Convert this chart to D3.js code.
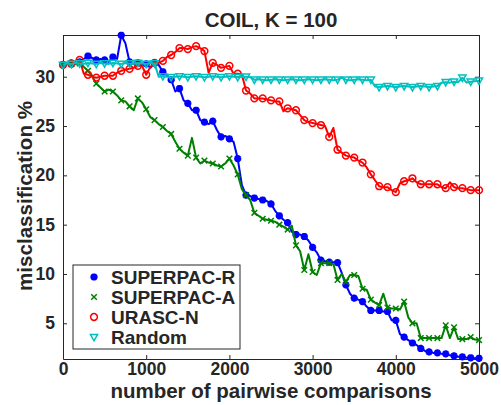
<!DOCTYPE html>
<html>
<head>
<meta charset="utf-8">
<script src="https://cdn.jsdelivr.net/npm/d3@7"></script>
<style>
  body { margin: 0; background: #fff; }
  text { font-family: "Liberation Sans", Arial, sans-serif; font-weight: bold; fill: #262626; }
</style>
</head>
<body>
<script>
// x positions: every 50 comparisons from 0 to 5000
var comparisons = d3.range(0, 5001, 50);

var superpacR = [31.2, 31.3, 31.4, 31.4, 31.5, 31.8, 32.1, 31.9, 31.7, 31.8,
  31.7, 31.5, 32.0, 31.8, 34.2, 33.4, 31.5, 31.3, 31.4, 31.2,
  31.3, 30.9, 31.4, 31.2, 30.5, 30.2, 29.7, 28.5, 28.8, 27.6,
  27.3, 26.6, 26.6, 25.6, 25.4, 25.2, 25.5, 24.6, 23.9, 24.0,
  23.7, 23.4, 21.7, 19.0, 18.0, 17.9, 17.7, 17.6, 17.5, 17.4,
  17.1, 16.4, 15.9, 15.5, 15.2, 14.3, 14.0, 14.0, 13.8, 13.4,
  12.7, 12.2, 11.4, 11.3, 11.2, 11.2, 11.15, 10.1, 8.9, 8.0,
  7.55, 7.4, 7.2, 6.7, 6.3, 6.3, 6.3, 6.2, 6.2, 5.3,
  5.3, 3.9, 3.6, 3.3, 3.0, 2.8, 2.45, 2.2, 2.1, 2.0,
  2.0, 1.9, 1.9, 1.75, 1.7, 1.6, 1.6, 1.5, 1.5, 1.45, 1.45];

var superpacA = [31.2, 31.3, 31.3, 31.3, 31.35, 31.0, 30.6, 30.1, 29.3, 28.9,
  28.5, 28.7, 28.5, 28.1, 27.6, 27.5, 27.0, 26.6, 27.8, 27.4,
  26.7, 25.9, 25.6, 25.2, 24.9, 24.5, 24.2, 23.4, 22.7, 22.3,
  22.0, 23.8, 21.8, 21.2, 21.5, 21.3, 21.2, 21.0, 20.9, 21.2,
  21.7, 21.0, 20.1, 18.6, 18.0, 17.5, 16.2, 15.9, 15.6, 15.5,
  15.4, 15.3, 15.0, 14.8, 14.5, 14.9, 12.9, 12.3, 10.4, 12.0,
  10.2, 9.9, 11.1, 11.1, 11.1, 11.0, 9.4, 10.0, 9.2, 9.9,
  9.9, 9.8, 8.5, 8.4, 7.4, 7.1, 6.85, 8.0, 6.6, 6.5,
  6.5, 6.4, 7.2, 5.6, 5.0, 5.0, 3.5, 3.5, 3.5, 3.5,
  3.5, 3.5, 4.8, 3.5, 4.6, 3.4, 3.4, 3.4, 3.6, 3.35, 3.3];

var urascN = [31.2, 31.3, 31.3, 31.6, 31.7, 30.3, 30.2, 30.0, 29.9, 30.0,
  30.1, 30.1, 30.1, 30.4, 30.6, 30.7, 30.8, 30.9, 31.1, 31.1,
  30.2, 31.0, 31.4, 31.4, 31.6, 32.0, 32.2, 32.5, 32.9, 32.9,
  32.8, 33.0, 33.1, 32.9, 32.6, 30.4, 31.4, 31.2, 30.9, 31.0,
  31.1, 30.3, 30.3, 30.2, 28.6, 28.3, 27.8, 27.8, 27.8, 27.7,
  27.6, 27.5, 27.5, 26.5, 26.8, 26.7, 26.6, 26.1, 25.6, 25.4,
  25.3, 25.2, 25.1, 25.0, 23.9, 24.8, 22.6, 22.3, 22.0, 21.9,
  21.8, 21.5, 21.3, 20.8, 20.1, 19.5, 18.9, 18.8, 18.8, 18.5,
  18.3, 19.2, 19.4, 19.5, 19.7, 19.3, 19.1, 19.1, 19.1, 19.1,
  19.1, 18.8, 18.7, 19.3, 18.8, 18.7, 18.7, 18.6, 18.5, 18.5, 18.5];

var random = [31.2, 31.35, 31.3, 31.4, 31.35, 31.3, 31.4, 31.35, 31.3, 31.4,
  31.35, 31.3, 31.4, 31.35, 31.3, 31.4, 31.35, 31.3, 31.4, 31.35,
  31.3, 31.4, 31.35, 30.0, 30.05, 30.0, 29.95, 30.0, 30.05, 30.0,
  29.95, 30.0, 30.05, 30.0, 29.95, 30.0, 30.05, 30.0, 29.95, 30.0,
  30.05, 30.0, 29.95, 30.0, 30.0, 29.95, 29.7, 29.75, 29.7, 29.65,
  29.7, 29.75, 29.7, 29.65, 29.7, 29.75, 29.7, 29.65, 29.7, 29.75,
  29.7, 29.65, 29.7, 29.75, 29.7, 29.65, 29.7, 29.9, 29.7, 29.65,
  29.7, 29.75, 29.7, 29.65, 29.7, 29.0, 28.95, 29.0, 29.05, 29.0,
  28.95, 29.0, 29.05, 29.0, 28.95, 29.0, 29.05, 29.0, 28.95, 29.0,
  29.05, 29.4, 29.45, 29.4, 29.5, 29.45, 29.9, 29.4, 29.5, 29.55, 29.6];

var seriesNames = ["SUPERPAC-R", "SUPERPAC-A", "URASC-N", "Random"];
var seriesColors = ["#0000ff", "#008000", "#ff0000", "#00bfbf"];
var seriesMarkers = ["asterisk", "x", "circle", "triangleDown"];
var allSeries = [superpacR, superpacA, urascN, random];

var xTicks = [0, 1000, 2000, 3000, 4000, 5000];
var yTicks = [5, 10, 15, 20, 25, 30];

// Define SVG container
var svgWidth = 501;
var svgHeight = 405;

var chartMargin = { top: 35, right: 22, bottom: 46, left: 63 };
var chartWidth = svgWidth - chartMargin.left - chartMargin.right;
var chartHeight = svgHeight - chartMargin.top - chartMargin.bottom;

var svg = d3.select("body")
  .append("svg")
  .attr("width", svgWidth)
  .attr("height", svgHeight);

var chartGroup = svg.append("g")
  .attr("transform", `translate(${chartMargin.left}, ${chartMargin.top})`);

var xScale = d3.scaleLinear()
  .domain([0, 5000])
  .range([0, chartWidth]);

var yScale = d3.scaleLinear()
  .domain([1.38, 34.23])
  .range([chartHeight, 0]);

// marker shapes, drawn as paths
function markerPath(type) {
  if (type == "asterisk") {
    var r = 3.6, a = 2.6;
    return `M${-r},0L${r},0M0,${-r}L0,${r}M${-a},${-a}L${a},${a}M${-a},${a}L${a},${-a}`;
  }
  if (type == "x") {
    var b = 2.8;
    return `M${-b},${-b}L${b},${b}M${-b},${b}L${b},${-b}`;
  }
  if (type == "circle") {
    return "M3.4,0A3.4,3.4 0 1,1 -3.4,0A3.4,3.4 0 1,1 3.4,0Z";
  }
  return "M-3.6,-2.6L3.6,-2.6L0,3.8Z";
}

// axes, ticks pointing inward on all four sides
var tickLen = 4;
chartGroup.append("g")
  .attr("transform", `translate(0,${chartHeight})`)
  .call(d3.axisBottom(xScale).tickValues(xTicks).tickSizeInner(-tickLen).tickSizeOuter(0)
    .tickPadding(4).tickFormat(d3.format("d")));

chartGroup.append("g")
  .call(d3.axisTop(xScale).tickValues(xTicks).tickSizeInner(-tickLen).tickSizeOuter(0).tickFormat(""));

chartGroup.append("g")
  .call(d3.axisLeft(yScale).tickValues(yTicks).tickSizeInner(-tickLen).tickSizeOuter(0).tickPadding(8));

chartGroup.append("g")
  .attr("transform", `translate(${chartWidth},0)`)
  .call(d3.axisRight(yScale).tickValues(yTicks).tickSizeInner(-tickLen).tickSizeOuter(0).tickFormat(""));

chartGroup.selectAll(".domain").attr("stroke", "#262626");
chartGroup.selectAll(".tick line").attr("stroke", "#262626");
chartGroup.selectAll(".tick text")
  .attr("font-size", 17.5)
  .attr("font-family", "Liberation Sans, Arial, sans-serif")
  .attr("font-weight", "bold")
  .attr("fill", "#262626");

// the series
var line = d3.line()
  .x((d, i) => xScale(comparisons[i]))
  .y(d => yScale(d));

allSeries.forEach(function(values, s) {
  chartGroup.append("path")
    .datum(values)
    .attr("d", line)
    .attr("fill", "none")
    .attr("stroke", seriesColors[s])
    .attr("stroke-width", 2)
    .attr("stroke-linejoin", "round");

  var filled = seriesMarkers[s] == "asterisk";
  chartGroup.selectAll(".m" + s)
    .data(values.filter((d, i) => i % 2 == 0))
    .enter()
    .append("path")
    .attr("class", "m" + s)
    .attr("transform", (d, i) => `translate(${xScale(comparisons[i * 2])},${yScale(d)})`)
    .attr("d", markerPath(seriesMarkers[s]))
    .attr("fill", filled ? seriesColors[s] : "none")
    .attr("stroke", seriesColors[s])
    .attr("stroke-width", filled ? 2.4 : 1.5);
});

// legend
var legend = chartGroup.append("g")
  .attr("transform", "translate(10,230)");

legend.append("rect")
  .attr("width", 167)
  .attr("height", 84)
  .attr("fill", "#fff")
  .attr("stroke", "#262626")
  .attr("stroke-width", 1);

seriesNames.forEach(function(name, s) {
  var row = legend.append("g")
    .attr("transform", `translate(0,${12 + s * 20})`);
  var filled = seriesMarkers[s] == "asterisk";
  row.append("path")
    .attr("transform", "translate(21,0)")
    .attr("d", markerPath(seriesMarkers[s]))
    .attr("fill", filled ? seriesColors[s] : "none")
    .attr("stroke", seriesColors[s])
    .attr("stroke-width", filled ? 2.4 : 1.5);
  row.append("text")
    .attr("x", 38)
    .attr("y", 7)
    .attr("font-size", 19)
    .text(name);
});

// title and axis labels
svg.append("text")
  .attr("x", 271)
  .attr("y", 27)
  .attr("text-anchor", "middle")
  .attr("font-size", 20.5)
  .text("COIL, K = 100");

svg.append("text")
  .attr("x", 271)
  .attr("y", 398)
  .attr("text-anchor", "middle")
  .attr("font-size", 20.5)
  .text("number of pairwise comparisons");

svg.append("text")
  .attr("transform", "translate(31.5,196) rotate(-90)")
  .attr("text-anchor", "middle")
  .attr("font-size", 20.6)
  .text("misclassification %");
</script>
</body>
</html>
